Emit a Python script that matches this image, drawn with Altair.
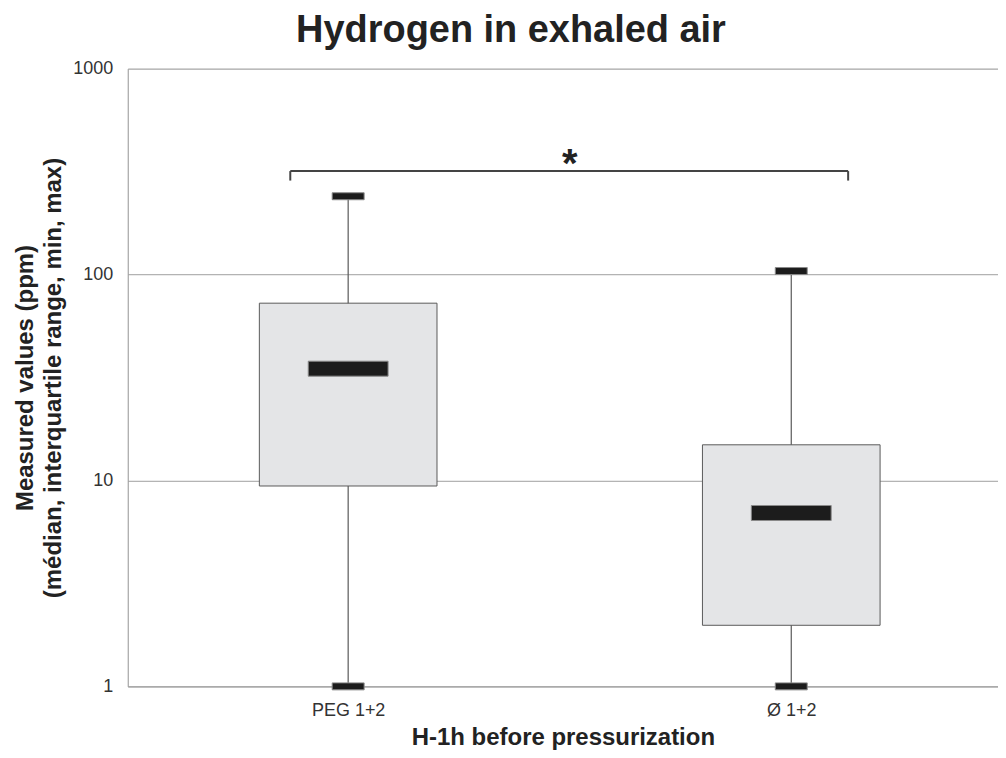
import altair as alt
import pandas as pd

groups = ["PEG 1+2", "Ø 1+2"]
mins = [1, 1]
q1s = [9.4, 1.98]
medians = [34.9, 6.95]
q3s = [72.6, 14.9]
maxs = [240, 104]

bracket_y = 318
bracket_end_y = 286
star = "*"

df = pd.DataFrame({"group": groups, "min": mins, "q1": q1s, "median": medians,
                   "q3": q3s, "max": maxs})

FONT = "Liberation Sans"
EDGE = "#5a5a5a"

x_scale = alt.Scale(type="point", domain=groups, padding=0.482, align=0.516)

x_enc = alt.X("group:N", sort=groups, scale=x_scale,
              axis=alt.Axis(title="H-1h before pressurization", labelAngle=0,
                            labelFontSize=18, labelColor="#333", labelFont=FONT,
                            labelPadding=15, titleFont=FONT, titleFontSize=24,
                            titleFontWeight="bold", titleColor="#222",
                            titlePadding=6, ticks=False, domainColor="#a0a0a0",
                            grid=False))
y_scale = alt.Scale(type="log", domain=[1, 1000], nice=False)
y_axis = alt.Axis(values=[1, 10, 100, 1000], format="d", grid=True,
                  gridColor="#a0a0a0", domainColor="#a0a0a0", ticks=False,
                  labelFontSize=18, labelColor="#333", labelFont=FONT,
                  labelPadding=15,
                  title=["Measured values (ppm)", "(médian, interquartile range, min, max)"],
                  titleFont=FONT, titleFontSize=24, titleFontWeight="bold",
                  titleColor="#222", titleLineHeight=28, titlePadding=7)

base = alt.Chart(df)

whisker = base.mark_rule(color=EDGE, strokeWidth=1.2).encode(
    x=x_enc,
    y=alt.Y("min:Q", scale=y_scale, axis=y_axis),
    y2="max:Q")

box = base.mark_bar(size=178, fill="#e4e5e7", stroke=EDGE, strokeWidth=1).encode(
    x=x_enc, y=alt.Y("q1:Q", scale=y_scale), y2="q3:Q")

median = base.mark_tick(orient="horizontal", size=80, thickness=15, color="#1c1c1c",
                        stroke="#8a8a8a", strokeWidth=1, opacity=1).encode(
    x=x_enc, y=alt.Y("median:Q", scale=y_scale))

cap_min = base.mark_tick(orient="horizontal", size=32, thickness=7, color="#1c1c1c",
                         stroke="#8a8a8a", strokeWidth=1, opacity=1).encode(
    x=x_enc, y=alt.Y("min:Q", scale=y_scale))
cap_max = base.mark_tick(orient="horizontal", size=32, thickness=7, color="#1c1c1c",
                         stroke="#8a8a8a", strokeWidth=1, opacity=1).encode(
    x=x_enc, y=alt.Y("max:Q", scale=y_scale))

bdf = pd.DataFrame({"a": [groups[0]], "b": [groups[1]], "y": [bracket_y],
                    "yend": [bracket_end_y], "label": [star]})
bb = alt.Chart(bdf)
bracket_h = bb.mark_rule(color="#444", strokeWidth=2, xOffset=-58, x2Offset=57).encode(
    x=alt.X("a:N", scale=x_scale), x2="b:N", y=alt.Y("y:Q", scale=y_scale))
bracket_l = bb.mark_rule(color="#444", strokeWidth=2, xOffset=-58).encode(
    x=alt.X("a:N", scale=x_scale), y=alt.Y("y:Q", scale=y_scale), y2="yend:Q")
bracket_r = bb.mark_rule(color="#444", strokeWidth=2, xOffset=57).encode(
    x=alt.X("b:N", scale=x_scale), y=alt.Y("y:Q", scale=y_scale), y2="yend:Q")
star_t = bb.mark_text(font=FONT, fontSize=40, fontWeight="bold", color="#222",
                      baseline="alphabetic", align="center", dx=222, dy=6).encode(
    x=alt.X("a:N", scale=x_scale), y=alt.Y("y:Q", scale=y_scale), text="label:N")

chart = alt.layer(whisker, box, median, cap_min, cap_max,
                  bracket_h, bracket_l, bracket_r, star_t).properties(
    width=872, height=619,
    autosize=alt.AutoSizeParams(type="none"),
    padding={"left": 120, "top": 60, "right": 0, "bottom": 63},
    title=alt.TitleParams("Hydrogen in exhaled air", font=FONT, fontSize=38,
                          fontWeight="bold", color="#222", baseline="alphabetic",
                          offset=-20, anchor="middle", dx=-52),
).configure_view(stroke=None).configure(background="white")

chart.save("out.html", embed_options={"renderer": "svg", "actions": False})
